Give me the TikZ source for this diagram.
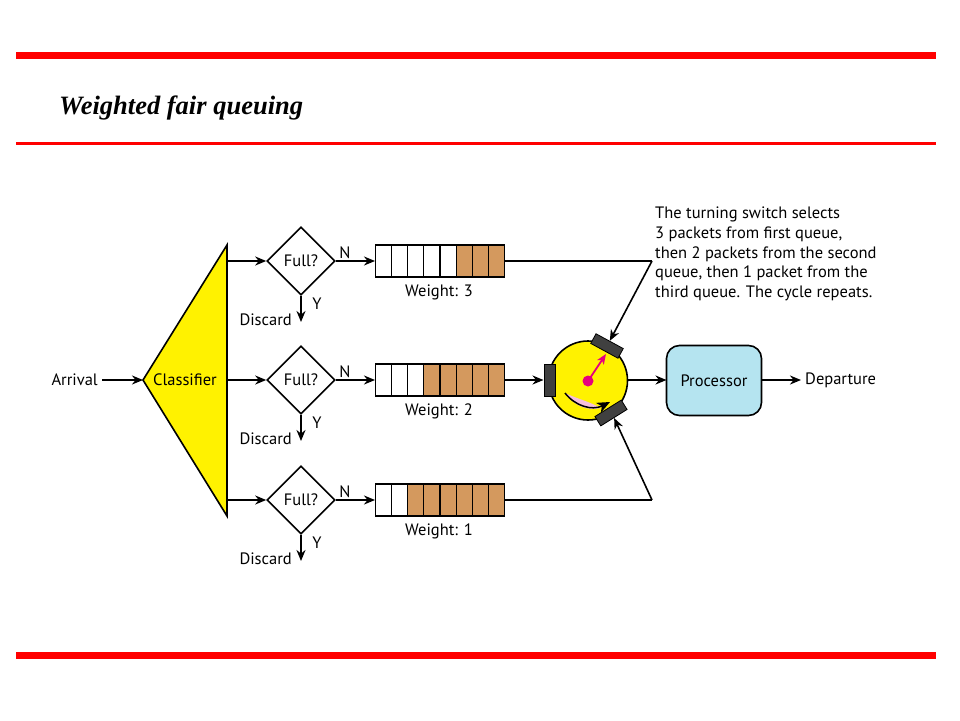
\documentclass[tikz,border=0pt]{standalone}
\usepackage{fontspec}
\setmainfont{PT Sans}
\newfontfamily\titlefont{Liberation Serif}
\usetikzlibrary{arrows.meta,shapes.geometric,calc}
\definecolor{redbar}{RGB}{255,0,0}
\definecolor{brownq}{RGB}{212,153,94}
\definecolor{procblue}{RGB}{181,228,240}
\definecolor{slotgray}{RGB}{64,64,64}
\definecolor{magentaq}{RGB}{230,0,126}
\definecolor{pinkq}{RGB}{246,190,220}
\begin{document}
\begin{tikzpicture}[x=1pt,y=-1pt,
  every node/.style={font=\fontsize{16.5}{19}\selectfont, inner sep=0pt},
  arr/.style={line width=1.6pt,-{Stealth[length=11pt,width=9pt,inset=3.5pt]}},
  ln/.style={line width=1.6pt},
  dia/.style={draw, line width=1.6pt, diamond, minimum width=68pt, minimum height=68pt, aspect=1},
  cell/.style={draw, line width=1.1pt, minimum width=16.1pt, minimum height=32pt, anchor=west},
  slot/.style={draw=black, fill=slotgray, line width=0.8pt, minimum width=31pt, minimum height=11pt}
]
\useasboundingbox (0,0) rectangle (960,720);
% red bars
\fill[redbar] (16,52) rectangle (936,59);
\fill[redbar] (16,142) rectangle (936,144.5);
\fill[redbar] (16,652) rectangle (936,659);
\node[anchor=base west] (title) at (59,114) {\titlefont\fontsize{26.5}{30}\selectfont\bfseries\itshape Weighted fair queuing};

% classifier
\draw[fill=yellow, line width=1.6pt] (143,380) -- (227,245) -- (227,516) -- cycle;
\node (cls) at (185,380) {Classifier};
\coordinate (apex) at (143,380);
\node[anchor=east] (arrival) at (98,380) {Arrival};
\coordinate (arrs) at (102,380);
\draw[arr] (arrs) -- (apex);

% three rows
\foreach \i/\y/\w/\nw in {1/261/3/5, 2/380/2/3, 3/500/1/2}{
  \coordinate (c\i) at (227,\y);
  \node[dia] (d\i) at (301,\y) {};
  \node at (301,\y) {Full?};
  \draw[arr] (c\i) -- (d\i.west);
  \node (n\i) at (345,\y-8) {N};
  \coordinate (dd\i) at (301,\y+61);
  \draw[arr] (d\i.south) -- (dd\i);
  \node (yy\i) at (317,\y+43) {Y};
  \node[anchor=east] (disc\i) at (292,\y+59) {Discard};
  % queue
  \foreach \k in {1,...,8}{
    \pgfmathtruncatemacro{\isw}{\k<=\nw ? 1 : 0}
    \ifnum\isw=1
      \node[cell, fill=white] (q\i-\k) at ({375+(\k-1)*16.1},\y) {};
    \else
      \node[cell, fill=brownq] (q\i-\k) at ({375+(\k-1)*16.1},\y) {};
    \fi
  }
  \draw[arr] (d\i.east) -- (q\i-1.west);
  \node (wt\i) at (439,\y+31) {Weight: \w};
}

% switch
\node[circle, draw, fill=yellow, line width=1.6pt, minimum size=79pt] (sw) at (588,380.5) {};
\node[slot, minimum width=32pt, minimum height=11pt, rotate=90] (sl) at (549.5,380.5) {};
\node[slot, rotate=-28.5] (st) at (607,346) {};
\node[slot, rotate=32] (sb) at (611,413) {};
\coordinate (slin) at (543.5,380);
% needle
\fill[magentaq] (588,381) circle (5.5pt);
\draw[magentaq, line width=1.8pt, -{Stealth[length=10pt,width=8pt,inset=2.5pt]}] (588,381) -- (606,354);
% crescent
\fill[pinkq] (565,393) .. controls (575,407) and (588,411) .. (601,408) .. controls (588,401) and (575,398) .. (565,393);
\draw[line width=1.5pt, -{Stealth[length=13pt,width=11pt,inset=4pt]}] (565,393) .. controls (575,406) and (592,411) .. (610,402);

% connections to switch
\coordinate (k1) at (652,261);
\coordinate (k3) at (652,500);
\draw[ln] (q1-8.east) -- (k1);
\draw[arr] (k1) -- (st.north);
\draw[ln] (q3-8.east) -- (k3);
\draw[arr] (k3) -- (sb.south);
\draw[arr] (q2-8.east) -- (slin);

% processor
\node[draw, line width=1.6pt, fill=procblue, rounded corners=13pt, minimum width=95pt, minimum height=70pt] (proc) at (714,380.5) {Processor};
\coordinate (swout) at (627.5,380);
\coordinate (procin) at (666.5,380);
\coordinate (procout) at (761.5,380);
\draw[arr] (swout) -- (procin);
\node[anchor=west] (dep) at (805,380) {Departure};
\coordinate (depend) at (801,380);
\draw[arr] (procout) -- (depend);

% annotation
\node[anchor=north west, align=left, font=\fontsize{16.5}{19.6}\selectfont] (note) at (655,207)
  {The turning switch selects\\3 packets from first queue,\\then 2 packets from the second\\queue, then 1 packet from the\\third queue. The cycle repeats.};
\end{tikzpicture}
\end{document}
